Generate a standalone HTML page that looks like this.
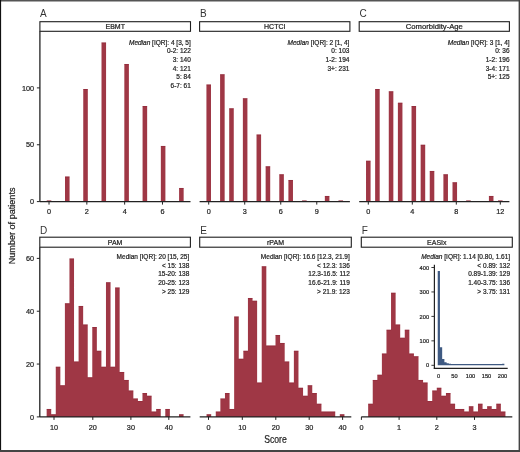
<!DOCTYPE html><html><head><meta charset="utf-8"><style>html,body{margin:0;padding:0;background:#fff;}svg{display:block;will-change:transform;}text{font-family:"Liberation Sans", sans-serif;stroke:#1e1e1e;stroke-width:0.22px;}</style></head><body>
<svg width="520" height="452" viewBox="0 0 520 452">
<rect x="0" y="0" width="520" height="452" fill="#fff"/>
<text x="40" y="17.1" font-size="10" fill="#333" style="stroke:none">A</text>
<rect x="39.9" y="21.7" width="150.6" height="9.6" fill="#fff" stroke="#1e1e1e" stroke-width="1.1"/>
<text x="115.2" y="29" font-size="7" fill="#1e1e1e" text-anchor="middle">EBMT</text>
<path d="M46.75 201.6V200.46H51.31V201.6ZM65 201.6V176.59H69.56V201.6ZM83.25 201.6V89.04H87.82V201.6ZM101.51 201.6V42.42H106.07V201.6ZM124.33 201.6V64.02H128.89V201.6ZM142.58 201.6V106.09H147.15V201.6ZM160.84 201.6V145.89H165.4V201.6ZM179.09 201.6V187.96H183.65V201.6Z" fill="#9f3745"/>
<path d="M46.75 200.91H51.31M65 177.04H69.56M83.25 89.49H87.82M101.51 42.87H106.07M124.33 64.47H128.89M142.58 106.54H147.15M160.84 146.34H165.4M179.09 188.41H183.65" fill="none" stroke="#7d1427" stroke-width="0.5" opacity="0.5"/>
<line x1="39.9" y1="201.6" x2="190.5" y2="201.6" stroke="#222222" stroke-width="1.2"/>
<line x1="49.03" y1="201.6" x2="49.03" y2="204.6" stroke="#222222" stroke-width="1"/>
<text transform="translate(49.03 214.3) scale(0.96 1)" font-size="7.6" fill="#1e1e1e" text-anchor="middle">0</text>
<line x1="86.84" y1="201.6" x2="86.84" y2="204.6" stroke="#222222" stroke-width="1"/>
<text transform="translate(86.84 214.3) scale(0.96 1)" font-size="7.6" fill="#1e1e1e" text-anchor="middle">2</text>
<line x1="124.65" y1="201.6" x2="124.65" y2="204.6" stroke="#222222" stroke-width="1"/>
<text transform="translate(124.65 214.3) scale(0.96 1)" font-size="7.6" fill="#1e1e1e" text-anchor="middle">4</text>
<line x1="162.47" y1="201.6" x2="162.47" y2="204.6" stroke="#222222" stroke-width="1"/>
<text transform="translate(162.47 214.3) scale(0.96 1)" font-size="7.6" fill="#1e1e1e" text-anchor="middle">6</text>
<line x1="39.9" y1="31.3" x2="39.9" y2="201.6" stroke="#222222" stroke-width="1.3"/>
<line x1="36.9" y1="201.6" x2="39.9" y2="201.6" stroke="#222222" stroke-width="1"/>
<text transform="translate(34.1 204.3) scale(0.96 1)" font-size="7.6" fill="#1e1e1e" text-anchor="end">0</text>
<line x1="36.9" y1="144.75" x2="39.9" y2="144.75" stroke="#222222" stroke-width="1"/>
<text transform="translate(34.1 147.45) scale(0.96 1)" font-size="7.6" fill="#1e1e1e" text-anchor="end">50</text>
<line x1="36.9" y1="87.9" x2="39.9" y2="87.9" stroke="#222222" stroke-width="1"/>
<text transform="translate(34.1 90.6) scale(0.96 1)" font-size="7.6" fill="#1e1e1e" text-anchor="end">100</text>
<text transform="translate(190.8 44.6) scale(0.9 1)" font-size="7.25" fill="#1e1e1e" text-anchor="end"><tspan font-style="italic">Median</tspan> [IQR]: 4 [3, 5]</text>
<text transform="translate(190.8 53.32) scale(0.9 1)" font-size="7.25" fill="#1e1e1e" text-anchor="end">0-2: 122</text>
<text transform="translate(190.8 62.04) scale(0.9 1)" font-size="7.25" fill="#1e1e1e" text-anchor="end">3: 140</text>
<text transform="translate(190.8 70.76) scale(0.9 1)" font-size="7.25" fill="#1e1e1e" text-anchor="end">4: 121</text>
<text transform="translate(190.8 79.48) scale(0.9 1)" font-size="7.25" fill="#1e1e1e" text-anchor="end">5: 84</text>
<text transform="translate(190.8 88.2) scale(0.9 1)" font-size="7.25" fill="#1e1e1e" text-anchor="end">6-7: 61</text>
<text x="199.9" y="17.1" font-size="10" fill="#333" style="stroke:none">B</text>
<rect x="199.6" y="21.7" width="150.3" height="9.6" fill="#fff" stroke="#1e1e1e" stroke-width="1.1"/>
<text x="274.75" y="29" font-size="7" fill="#1e1e1e" text-anchor="middle">HCTCI</text>
<path d="M206.43 201.6V84.49H210.99V201.6ZM220.1 201.6V74.26H224.65V201.6ZM229.2 201.6V108.37H233.76V201.6ZM242.87 201.6V98.13H247.42V201.6ZM256.53 201.6V134.52H261.09V201.6ZM265.64 201.6V166.35H270.2V201.6ZM279.3 201.6V174.31H283.86V201.6ZM288.41 201.6V180H292.97V201.6ZM302.08 201.6V200.46H306.63V201.6ZM324.85 201.6V195.91H329.4V201.6ZM338.51 201.6V200.46H343.07V201.6Z" fill="#9f3745"/>
<path d="M206.43 84.94H210.99M220.1 74.71H224.65M229.2 108.82H233.76M242.87 98.58H247.42M256.53 134.97H261.09M265.64 166.8H270.2M279.3 174.76H283.86M288.41 180.45H292.97M302.08 200.91H306.63M324.85 196.36H329.4M338.51 200.91H343.07" fill="none" stroke="#7d1427" stroke-width="0.5" opacity="0.5"/>
<line x1="199.6" y1="201.6" x2="349.9" y2="201.6" stroke="#222222" stroke-width="1.2"/>
<line x1="208.71" y1="201.6" x2="208.71" y2="204.6" stroke="#222222" stroke-width="1"/>
<text transform="translate(208.71 214.3) scale(0.96 1)" font-size="7.6" fill="#1e1e1e" text-anchor="middle">0</text>
<line x1="244.73" y1="201.6" x2="244.73" y2="204.6" stroke="#222222" stroke-width="1"/>
<text transform="translate(244.73 214.3) scale(0.96 1)" font-size="7.6" fill="#1e1e1e" text-anchor="middle">3</text>
<line x1="280.75" y1="201.6" x2="280.75" y2="204.6" stroke="#222222" stroke-width="1"/>
<text transform="translate(280.75 214.3) scale(0.96 1)" font-size="7.6" fill="#1e1e1e" text-anchor="middle">6</text>
<line x1="316.78" y1="201.6" x2="316.78" y2="204.6" stroke="#222222" stroke-width="1"/>
<text transform="translate(316.78 214.3) scale(0.96 1)" font-size="7.6" fill="#1e1e1e" text-anchor="middle">9</text>
<text transform="translate(349.4 44.6) scale(0.9 1)" font-size="7.25" fill="#1e1e1e" text-anchor="end"><tspan font-style="italic">Median</tspan> [IQR]: 2 [1, 4]</text>
<text transform="translate(349.4 53.32) scale(0.9 1)" font-size="7.25" fill="#1e1e1e" text-anchor="end">0: 103</text>
<text transform="translate(349.4 62.04) scale(0.9 1)" font-size="7.25" fill="#1e1e1e" text-anchor="end">1-2: 194</text>
<text transform="translate(349.4 70.76) scale(0.9 1)" font-size="7.25" fill="#1e1e1e" text-anchor="end">3+: 231</text>
<text x="359.4" y="17.1" font-size="10" fill="#333" style="stroke:none">C</text>
<rect x="359.2" y="21.7" width="150.2" height="9.6" fill="#fff" stroke="#1e1e1e" stroke-width="1.1"/>
<text x="434.3" y="29" font-size="7" fill="#1e1e1e" text-anchor="middle" textLength="57.2" lengthAdjust="spacingAndGlyphs">Comorbidity-Age</text>
<path d="M366.03 201.6V160.67H370.58V201.6ZM375.13 201.6V89.04H379.68V201.6ZM388.78 201.6V91.31H393.34V201.6ZM397.89 201.6V102.68H402.44V201.6ZM411.54 201.6V106.09H416.09V201.6ZM420.65 201.6V144.75H425.2V201.6ZM429.75 201.6V170.9H434.3V201.6ZM443.4 201.6V174.31H447.95V201.6ZM452.51 201.6V182.27H457.06V201.6ZM466.16 201.6V200.46H470.71V201.6ZM488.92 201.6V195.91H493.47V201.6ZM498.02 201.6V200.46H502.57V201.6Z" fill="#9f3745"/>
<path d="M366.03 161.12H370.58M375.13 89.49H379.68M388.78 91.76H393.34M397.89 103.13H402.44M411.54 106.54H416.09M420.65 145.2H425.2M429.75 171.35H434.3M443.4 174.76H447.95M452.51 182.72H457.06M466.16 200.91H470.71M488.92 196.36H493.47M498.02 200.91H502.57" fill="none" stroke="#7d1427" stroke-width="0.5" opacity="0.5"/>
<line x1="359.2" y1="201.6" x2="509.4" y2="201.6" stroke="#222222" stroke-width="1.2"/>
<line x1="368.3" y1="201.6" x2="368.3" y2="204.6" stroke="#222222" stroke-width="1"/>
<text transform="translate(368.3 214.3) scale(0.96 1)" font-size="7.6" fill="#1e1e1e" text-anchor="middle">0</text>
<line x1="412.3" y1="201.6" x2="412.3" y2="204.6" stroke="#222222" stroke-width="1"/>
<text transform="translate(412.3 214.3) scale(0.96 1)" font-size="7.6" fill="#1e1e1e" text-anchor="middle">4</text>
<line x1="456.3" y1="201.6" x2="456.3" y2="204.6" stroke="#222222" stroke-width="1"/>
<text transform="translate(456.3 214.3) scale(0.96 1)" font-size="7.6" fill="#1e1e1e" text-anchor="middle">8</text>
<line x1="500.3" y1="201.6" x2="500.3" y2="204.6" stroke="#222222" stroke-width="1"/>
<text transform="translate(500.3 214.3) scale(0.96 1)" font-size="7.6" fill="#1e1e1e" text-anchor="middle">12</text>
<text transform="translate(509.6 44.6) scale(0.9 1)" font-size="7.25" fill="#1e1e1e" text-anchor="end"><tspan font-style="italic">Median</tspan> [IQR]: 3 [1, 4]</text>
<text transform="translate(509.6 53.32) scale(0.9 1)" font-size="7.25" fill="#1e1e1e" text-anchor="end">0: 36</text>
<text transform="translate(509.6 62.04) scale(0.9 1)" font-size="7.25" fill="#1e1e1e" text-anchor="end">1-2: 196</text>
<text transform="translate(509.6 70.76) scale(0.9 1)" font-size="7.25" fill="#1e1e1e" text-anchor="end">3-4: 171</text>
<text transform="translate(509.6 79.48) scale(0.9 1)" font-size="7.25" fill="#1e1e1e" text-anchor="end">5+: 125</text>
<text x="39.9" y="233.8" font-size="10" fill="#333" style="stroke:none">D</text>
<rect x="39.8" y="237.2" width="150.6" height="10" fill="#fff" stroke="#1e1e1e" stroke-width="1.1"/>
<text x="115.1" y="244.7" font-size="7" fill="#1e1e1e" text-anchor="middle">PAM</text>
<path d="M46.65 416.9V408.97H51.21V414.26H55.77V366.7H60.34V385.2H64.9V303.29H69.46V258.38H74.03V361.42H78.59V305.94H83.15V324.43H87.72V377.27H92.28V327.07H96.85V350.85H101.41V366.7H105.97V282.16H110.54V366.7H115.1V287.44H119.66V371.99H124.23V379.91H128.79V390.48H133.35V398.41H137.92V401.05H142.48V393.12H147.05V395.76H151.61V411.62H156.17V408.97H160.74V416.9ZM165.3 416.9V408.97H169.86V416.9ZM178.99 416.9V414.26H183.55V416.9Z" fill="#9f3745"/>
<path d="M46.65 409.42H51.21M51.21 414.71H55.77M55.77 367.15H60.34M60.34 385.65H64.9M64.9 303.74H69.46M69.46 258.83H74.03M74.03 361.87H78.59M78.59 306.39H83.15M83.15 324.88H87.72M87.72 377.72H92.28M92.28 327.52H96.85M96.85 351.3H101.41M101.41 367.15H105.97M105.97 282.61H110.54M110.54 367.15H115.1M115.1 287.89H119.66M119.66 372.44H124.23M124.23 380.36H128.79M128.79 390.93H133.35M133.35 398.86H137.92M137.92 401.5H142.48M142.48 393.57H147.05M147.05 396.21H151.61M151.61 412.07H156.17M156.17 409.42H160.74M165.3 409.42H169.86M178.99 414.71H183.55" fill="none" stroke="#7d1427" stroke-width="0.5" opacity="0.5"/>
<line x1="39.8" y1="416.9" x2="190.4" y2="416.9" stroke="#222222" stroke-width="1.2"/>
<line x1="54" y1="416.9" x2="54" y2="419.9" stroke="#222222" stroke-width="1"/>
<text transform="translate(54 429.6) scale(0.96 1)" font-size="7.6" fill="#1e1e1e" text-anchor="middle">10</text>
<line x1="92.8" y1="416.9" x2="92.8" y2="419.9" stroke="#222222" stroke-width="1"/>
<text transform="translate(92.8 429.6) scale(0.96 1)" font-size="7.6" fill="#1e1e1e" text-anchor="middle">20</text>
<line x1="130.9" y1="416.9" x2="130.9" y2="419.9" stroke="#222222" stroke-width="1"/>
<text transform="translate(130.9 429.6) scale(0.96 1)" font-size="7.6" fill="#1e1e1e" text-anchor="middle">30</text>
<line x1="168.8" y1="416.9" x2="168.8" y2="419.9" stroke="#222222" stroke-width="1"/>
<text transform="translate(168.8 429.6) scale(0.96 1)" font-size="7.6" fill="#1e1e1e" text-anchor="middle">40</text>
<line x1="39.8" y1="247.2" x2="39.8" y2="416.9" stroke="#222222" stroke-width="1.3"/>
<line x1="36.8" y1="416.9" x2="39.8" y2="416.9" stroke="#222222" stroke-width="1"/>
<text transform="translate(34 419.6) scale(0.96 1)" font-size="7.6" fill="#1e1e1e" text-anchor="end">0</text>
<line x1="36.8" y1="364.06" x2="39.8" y2="364.06" stroke="#222222" stroke-width="1"/>
<text transform="translate(34 366.76) scale(0.96 1)" font-size="7.6" fill="#1e1e1e" text-anchor="end">20</text>
<line x1="36.8" y1="311.22" x2="39.8" y2="311.22" stroke="#222222" stroke-width="1"/>
<text transform="translate(34 313.92) scale(0.96 1)" font-size="7.6" fill="#1e1e1e" text-anchor="end">40</text>
<line x1="36.8" y1="258.38" x2="39.8" y2="258.38" stroke="#222222" stroke-width="1"/>
<text transform="translate(34 261.08) scale(0.96 1)" font-size="7.6" fill="#1e1e1e" text-anchor="end">60</text>
<text transform="translate(189.3 258.9) scale(0.9 1)" font-size="7.25" fill="#1e1e1e" text-anchor="end">Median [IQR]: 20 [15, 25]</text>
<text transform="translate(189.3 267.62) scale(0.9 1)" font-size="7.25" fill="#1e1e1e" text-anchor="end">&lt; 15: 138</text>
<text transform="translate(189.3 276.34) scale(0.9 1)" font-size="7.25" fill="#1e1e1e" text-anchor="end">15-20: 138</text>
<text transform="translate(189.3 285.06) scale(0.9 1)" font-size="7.25" fill="#1e1e1e" text-anchor="end">20-25: 123</text>
<text transform="translate(189.3 293.78) scale(0.9 1)" font-size="7.25" fill="#1e1e1e" text-anchor="end">&gt; 25: 129</text>
<text x="200.2" y="233.8" font-size="10" fill="#333" style="stroke:none">E</text>
<rect x="199.7" y="237.2" width="151.6" height="10" fill="#fff" stroke="#1e1e1e" stroke-width="1.1"/>
<text x="275.5" y="244.7" font-size="7" fill="#1e1e1e" text-anchor="middle">rPAM</text>
<path d="M206.59 416.9V414.26H211.18V416.9ZM215.78 416.9V411.62H220.37V398.41H224.97V393.12H229.56V408.97H234.15V316.5H238.75V358.78H243.34V350.85H247.94V298.01H252.53V300.65H257.12V382.55H261.72V266.31H266.31V345.57H270.91V345.57H275.5V335H280.09V342.92H284.69V361.42H289.28V382.55H293.88V350.85H298.47V387.84H303.06V395.76H307.66V385.2H312.25V393.12H316.85V403.69H321.44V411.62H326.03V411.62H330.63V411.62H335.22V416.9ZM339.82 416.9V414.26H344.41V416.9Z" fill="#9f3745"/>
<path d="M206.59 414.71H211.18M215.78 412.07H220.37M220.37 398.86H224.97M224.97 393.57H229.56M229.56 409.42H234.15M234.15 316.95H238.75M238.75 359.23H243.34M243.34 351.3H247.94M247.94 298.46H252.53M252.53 301.1H257.12M257.12 383H261.72M261.72 266.76H266.31M266.31 346.02H270.91M270.91 346.02H275.5M275.5 335.45H280.09M280.09 343.37H284.69M284.69 361.87H289.28M289.28 383H293.88M293.88 351.3H298.47M298.47 388.29H303.06M303.06 396.21H307.66M307.66 385.65H312.25M312.25 393.57H316.85M316.85 404.14H321.44M321.44 412.07H326.03M326.03 412.07H330.63M330.63 412.07H335.22M339.82 414.71H344.41" fill="none" stroke="#7d1427" stroke-width="0.5" opacity="0.5"/>
<line x1="199.7" y1="416.9" x2="351.3" y2="416.9" stroke="#222222" stroke-width="1.2"/>
<line x1="208.5" y1="416.9" x2="208.5" y2="419.9" stroke="#222222" stroke-width="1"/>
<text transform="translate(208.5 429.6) scale(0.96 1)" font-size="7.6" fill="#1e1e1e" text-anchor="middle">0</text>
<line x1="242.3" y1="416.9" x2="242.3" y2="419.9" stroke="#222222" stroke-width="1"/>
<text transform="translate(242.3 429.6) scale(0.96 1)" font-size="7.6" fill="#1e1e1e" text-anchor="middle">10</text>
<line x1="275.8" y1="416.9" x2="275.8" y2="419.9" stroke="#222222" stroke-width="1"/>
<text transform="translate(275.8 429.6) scale(0.96 1)" font-size="7.6" fill="#1e1e1e" text-anchor="middle">20</text>
<line x1="309.2" y1="416.9" x2="309.2" y2="419.9" stroke="#222222" stroke-width="1"/>
<text transform="translate(309.2 429.6) scale(0.96 1)" font-size="7.6" fill="#1e1e1e" text-anchor="middle">30</text>
<line x1="342.6" y1="416.9" x2="342.6" y2="419.9" stroke="#222222" stroke-width="1"/>
<text transform="translate(342.6 429.6) scale(0.96 1)" font-size="7.6" fill="#1e1e1e" text-anchor="middle">40</text>
<text transform="translate(349.8 258.9) scale(0.9 1)" font-size="7.25" fill="#1e1e1e" text-anchor="end">Median [IQR]: 16.6 [12.3, 21.9]</text>
<text transform="translate(349.8 267.62) scale(0.9 1)" font-size="7.25" fill="#1e1e1e" text-anchor="end">&lt; 12.3: 136</text>
<text transform="translate(349.8 276.34) scale(0.9 1)" font-size="7.25" fill="#1e1e1e" text-anchor="end">12.3-16.5: 112</text>
<text transform="translate(349.8 285.06) scale(0.9 1)" font-size="7.25" fill="#1e1e1e" text-anchor="end">16.6-21.9: 119</text>
<text transform="translate(349.8 293.78) scale(0.9 1)" font-size="7.25" fill="#1e1e1e" text-anchor="end">&gt; 21.9: 123</text>
<text x="361.8" y="233.8" font-size="10" fill="#333" style="stroke:none">F</text>
<rect x="361.3" y="237.2" width="151" height="10" fill="#fff" stroke="#1e1e1e" stroke-width="1.1"/>
<text x="436.8" y="244.7" font-size="7" fill="#1e1e1e" text-anchor="middle">EASIx</text>
<path d="M368.16 416.9V403.69H372.74V379.91H377.32V374.63H381.89V353.49H386.47V329.71H391.04V292.73H395.62V324.43H400.19V337.64H404.77V329.71H409.35V353.49H413.92V356.13H418.5V379.91H423.07V382.55H427.65V401.05H432.22V390.48H436.8V387.84H441.38V395.76H445.95V393.12H450.53V403.69H455.1V408.97H459.68V408.97H464.25V411.62H468.83V406.33H473.41V411.62H477.98V403.69H482.56V408.97H487.13V406.33H491.71V408.97H496.28V403.69H500.86V411.62H505.44V416.9Z" fill="#9f3745"/>
<path d="M368.16 404.14H372.74M372.74 380.36H377.32M377.32 375.08H381.89M381.89 353.94H386.47M386.47 330.16H391.04M391.04 293.18H395.62M395.62 324.88H400.19M400.19 338.09H404.77M404.77 330.16H409.35M409.35 353.94H413.92M413.92 356.58H418.5M418.5 380.36H423.07M423.07 383H427.65M427.65 401.5H432.22M432.22 390.93H436.8M436.8 388.29H441.38M441.38 396.21H445.95M445.95 393.57H450.53M450.53 404.14H455.1M455.1 409.42H459.68M459.68 409.42H464.25M464.25 412.07H468.83M468.83 406.78H473.41M473.41 412.07H477.98M477.98 404.14H482.56M482.56 409.42H487.13M487.13 406.78H491.71M491.71 409.42H496.28M496.28 404.14H500.86M500.86 412.07H505.44" fill="none" stroke="#7d1427" stroke-width="0.5" opacity="0.5"/>
<line x1="361.3" y1="416.9" x2="512.3" y2="416.9" stroke="#222222" stroke-width="1.2"/>
<line x1="361.4" y1="416.9" x2="361.4" y2="419.9" stroke="#222222" stroke-width="1"/>
<text transform="translate(361.4 429.6) scale(0.96 1)" font-size="7.6" fill="#1e1e1e" text-anchor="middle">0</text>
<line x1="399.1" y1="416.9" x2="399.1" y2="419.9" stroke="#222222" stroke-width="1"/>
<text transform="translate(399.1 429.6) scale(0.96 1)" font-size="7.6" fill="#1e1e1e" text-anchor="middle">1</text>
<line x1="436.8" y1="416.9" x2="436.8" y2="419.9" stroke="#222222" stroke-width="1"/>
<text transform="translate(436.8 429.6) scale(0.96 1)" font-size="7.6" fill="#1e1e1e" text-anchor="middle">2</text>
<line x1="474.5" y1="416.9" x2="474.5" y2="419.9" stroke="#222222" stroke-width="1"/>
<text transform="translate(474.5 429.6) scale(0.96 1)" font-size="7.6" fill="#1e1e1e" text-anchor="middle">3</text>
<text transform="translate(510.1 258.9) scale(0.9 1)" font-size="7.25" fill="#1e1e1e" text-anchor="end"><tspan font-style="italic">Median</tspan> [IQR]: 1.14 [0.80, 1.61]</text>
<text transform="translate(510.1 267.62) scale(0.9 1)" font-size="7.25" fill="#1e1e1e" text-anchor="end">&lt; 0.89: 132</text>
<text transform="translate(510.1 276.34) scale(0.9 1)" font-size="7.25" fill="#1e1e1e" text-anchor="end">0.89-1.39: 129</text>
<text transform="translate(510.1 285.06) scale(0.9 1)" font-size="7.25" fill="#1e1e1e" text-anchor="end">1.40-3.75: 136</text>
<text transform="translate(510.1 293.78) scale(0.9 1)" font-size="7.25" fill="#1e1e1e" text-anchor="end">&gt; 3.75: 131</text>
<path d="M437.73 365.3V270.92H439.95V347.21H442.17V358.94H444.4V362.37H446.62V363.34H448.84V363.83H451.06V364.08H453.28V364.08H455.5V364.08H457.72V364.08H459.94V364.08H462.17V364.08H464.39V364.08H466.61V364.08H468.83V364.08H471.05V364.08H473.27V364.08H475.49V364.08H477.71V364.08H479.93V364.08H482.16V364.08H484.38V364.08H486.6V364.08H488.82V364.08H491.04V364.08H493.26V364.08H495.48V364.08H497.7V364.08H499.93V364.08H502.15V363.83H504.37V365.3Z" fill="#3f5a82"/>
<line x1="434.4" y1="264.8" x2="434.4" y2="368.9" stroke="#222222" stroke-width="1.2"/>
<line x1="433.8" y1="368.3" x2="507.7" y2="368.3" stroke="#222222" stroke-width="1.2"/>
<line x1="431.4" y1="365.3" x2="434.4" y2="365.3" stroke="#222222" stroke-width="0.9"/>
<text transform="translate(429.1 367.4) scale(0.95 1)" font-size="6.0" fill="#1e1e1e" text-anchor="end">0</text>
<line x1="431.4" y1="340.85" x2="434.4" y2="340.85" stroke="#222222" stroke-width="0.9"/>
<text transform="translate(429.1 342.95) scale(0.95 1)" font-size="6.0" fill="#1e1e1e" text-anchor="end">100</text>
<line x1="431.4" y1="316.4" x2="434.4" y2="316.4" stroke="#222222" stroke-width="0.9"/>
<text transform="translate(429.1 318.5) scale(0.95 1)" font-size="6.0" fill="#1e1e1e" text-anchor="end">200</text>
<line x1="431.4" y1="291.95" x2="434.4" y2="291.95" stroke="#222222" stroke-width="0.9"/>
<text transform="translate(429.1 294.05) scale(0.95 1)" font-size="6.0" fill="#1e1e1e" text-anchor="end">300</text>
<line x1="431.4" y1="267.5" x2="434.4" y2="267.5" stroke="#222222" stroke-width="0.9"/>
<text transform="translate(429.1 269.6) scale(0.95 1)" font-size="6.0" fill="#1e1e1e" text-anchor="end">400</text>
<text transform="translate(438.5 377.5) scale(0.95 1)" font-size="6.0" fill="#1e1e1e" text-anchor="middle">0</text>
<text transform="translate(454.5 377.5) scale(0.95 1)" font-size="6.0" fill="#1e1e1e" text-anchor="middle">50</text>
<text transform="translate(470.5 377.5) scale(0.95 1)" font-size="6.0" fill="#1e1e1e" text-anchor="middle">100</text>
<text transform="translate(486.5 377.5) scale(0.95 1)" font-size="6.0" fill="#1e1e1e" text-anchor="middle">150</text>
<text transform="translate(502.5 377.5) scale(0.95 1)" font-size="6.0" fill="#1e1e1e" text-anchor="middle">200</text>
<text x="0" y="0" font-size="9.85" fill="#1e1e1e" text-anchor="middle" transform="translate(14.5,225.9) rotate(-90) scale(0.923 1)">Number of patients</text>
<text transform="translate(275.5 443.1) scale(0.847 1)" font-size="10.2" fill="#1e1e1e" text-anchor="middle">Score</text>
<rect x="0" y="0" width="520" height="1.5" fill="#555"/>
<rect x="0" y="0" width="1.1" height="452" fill="#111"/>
<rect x="518.6" y="0" width="1.4" height="452" fill="#444"/>
<rect x="0" y="450" width="520" height="2" fill="#444"/>
</svg></body></html>
